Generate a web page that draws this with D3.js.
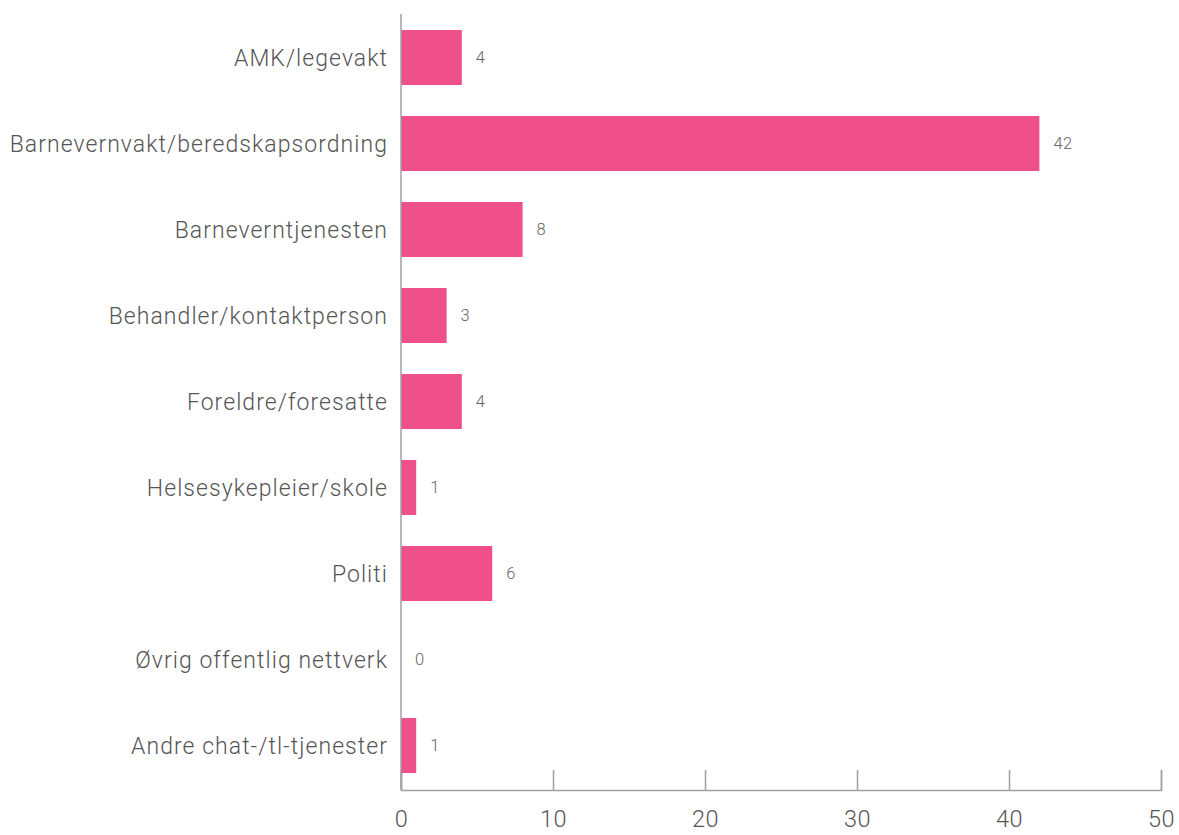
<!DOCTYPE html>
<html>
<head>
<meta charset="utf-8">
<script src="https://cdn.jsdelivr.net/npm/d3@7"></script>
<style>
	body { margin: 0; background: #fff; }
	svg { display: block; font-family: Roboto, "Liberation Sans", sans-serif; }
</style>
</head>
<body>
<svg id="chart"></svg>
<script>
const categories = [
	"AMK/legevakt",
	"Barnevernvakt/beredskapsordning",
	"Barneverntjenesten",
	"Behandler/kontaktperson",
	"Foreldre/foresatte",
	"Helsesykepleier/skole",
	"Politi",
	"Øvrig offentlig nettverk",
	"Andre chat-/tl-tjenester",
]
const values = [4, 42, 8, 3, 4, 1, 6, 0, 1]
const xTicks = [0, 10, 20, 30, 40, 50]

const width = 1179
const height = 835

//margin
const margin = { top: 14, bottom: 45, left: 401, right: 18 }

const svg = d3.select("#chart").attr("width", width).attr("height", height)

// scale
const scale = {
	x: d3.scaleLinear().domain([0, 50]).range([margin.left, width - margin.right]),
	y: d3
		.scaleBand()
		.domain(categories)
		.range([margin.top, height - margin.bottom - 1])
		.paddingInner(0.36)
		.paddingOuter(0.186),
}

const axisColor = "#a0a0a0"
const textColor = "#555"
const baseY = height - margin.bottom

// x axis: baseline with upward ticks
const xAxis = svg
	.append("g")
	.attr("transform", `translate(0, ${baseY})`)
	.call(d3.axisBottom(scale.x).tickValues(xTicks).tickSize(-20).tickPadding(37))
xAxis.select(".domain").attr("stroke", axisColor).attr("stroke-width", 1.5)
xAxis.selectAll(".tick line").attr("stroke", axisColor).attr("stroke-width", 1.5)
xAxis
	.selectAll(".tick text")
	.attr("fill", textColor)
	.attr("font-size", 23.5)
	.attr("font-family", "Roboto, sans-serif")
	.attr("font-weight", 300)
	.attr("letter-spacing", 0.5)
	.attr("dy", 0)

// bars
svg.selectAll("rect.bar")
	.data(values)
	.join("rect")
	.attr("class", "bar")
	.attr("x", scale.x(0))
	.attr("y", (d, i) => scale.y(categories[i]))
	.attr("width", (d) => scale.x(d) - scale.x(0))
	.attr("height", scale.y.bandwidth())
	.attr("fill", "#ef5089")

// y axis line (drawn over bars)
svg.append("line")
	.attr("x1", scale.x(0))
	.attr("x2", scale.x(0))
	.attr("y1", margin.top)
	.attr("y2", baseY)
	.attr("stroke", axisColor)
	.attr("stroke-width", 1.5)

// category labels
svg.selectAll("text.cat")
	.data(categories)
	.join("text")
	.attr("class", "cat")
	.attr("x", scale.x(0) - 13)
	.attr("y", (d) => scale.y(d) + scale.y.bandwidth() / 2)
	.attr("dy", "0.35em")
	.attr("text-anchor", "end")
	.attr("fill", textColor)
	.attr("font-size", 23)
	.attr("font-weight", 300)
	.attr("letter-spacing", 1.05)
	.text((d) => d)

// value labels
svg.selectAll("text.val")
	.data(values)
	.join("text")
	.attr("class", "val")
	.attr("x", (d) => scale.x(d) + 14)
	.attr("y", (d, i) => scale.y(categories[i]) + scale.y.bandwidth() / 2)
	.attr("dy", "0.35em")
	.attr("fill", "#666")
	.attr("font-size", 16.5)
	.attr("font-weight", 300)
	.attr("letter-spacing", 0.5)
	.text((d) => d)
</script>
</body>
</html>
